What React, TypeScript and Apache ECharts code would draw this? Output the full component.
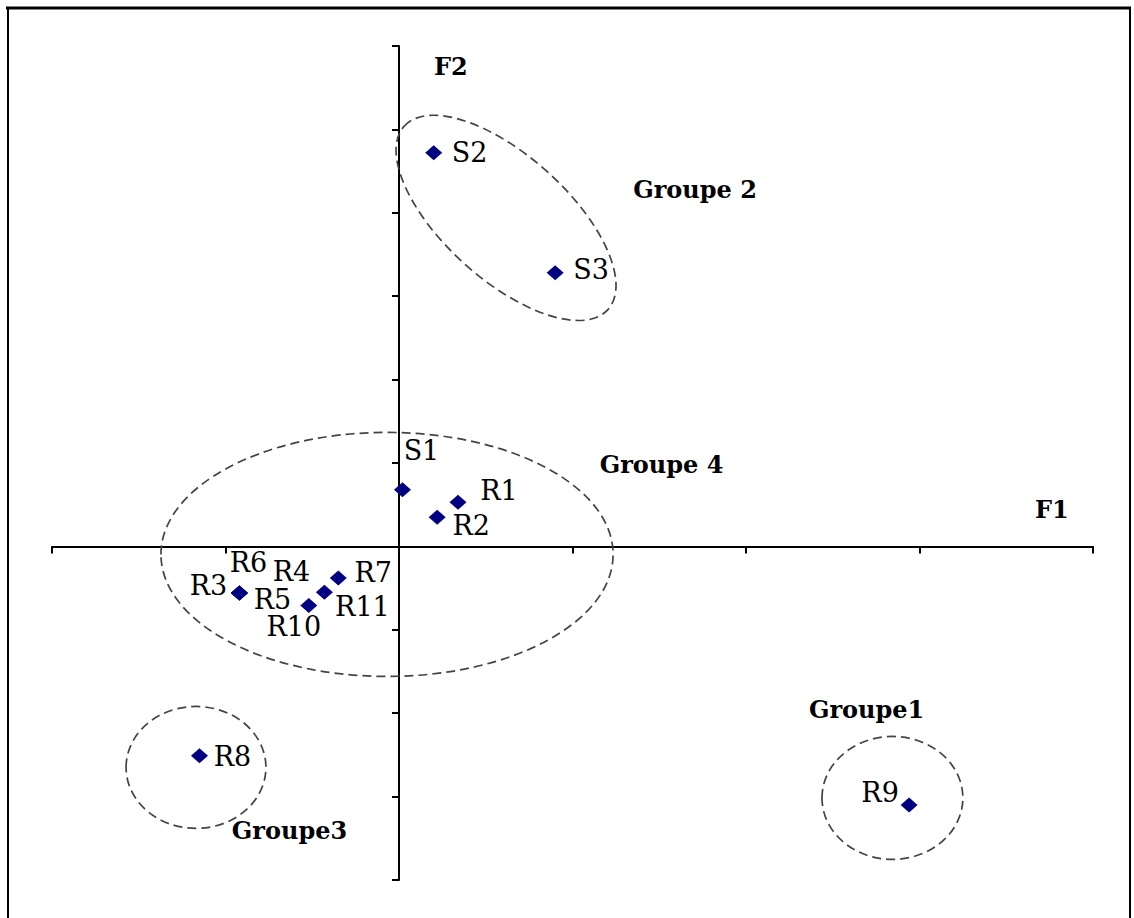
import React, { useEffect, useRef } from "react";
import * as echarts from "echarts";

// Factor scores of the observations on the first two factorial axes (F1, F2)
const pointNames = ["S1", "S2", "S3", "R1", "R2", "R3", "R4", "R5", "R6", "R7", "R8", "R9", "R10", "R11"];
const f1Values = [0.02, 0.2, 0.9, 0.34, 0.22, -0.92, -0.92, -0.92, -0.92, -0.35, -1.15, 2.94, -0.52, -0.43];
const f2Values = [0.68, 4.72, 3.28, 0.53, 0.35, -0.56, -0.56, -0.56, -0.56, -0.38, -2.51, -3.1, -0.71, -0.55];

// Groups: outline centre and semi-axes in axis units, tilt of the outline, caption anchor
const groupNames = ["Groupe 2", "Groupe 4", "Groupe3", "Groupe1"];
const groupCenterF1 = [0.617, -0.069, -1.17, 2.844];
const groupCenterF2 = [3.939, -0.096, -2.65, -3.016];
const groupRadiusF1 = [0.79, 1.303, 0.403, 0.406];
const groupRadiusF2 = [0.743, 1.463, 0.731, 0.737];
const groupTiltDeg = [42, 0, 0, 0];
const groupCaptionF1 = [1.706, 1.513, -0.631, 2.695];
const groupCaptionF2 = [4.281, 0.983, -3.405, -1.954];

// Axis ranges
const f1Range = [-2, 4];
const f2Range = [-4, 6];

// Hand placement of each point's caption, in pixels from the marker centre
const captionShift: Record<string, [number, number]> = {
  S1: [19, -39],
  S2: [36, 0],
  S3: [36, -3],
  R1: [41, -12],
  R2: [34, 8],
  R3: [-31, -8],
  R4: [52, -22],
  R5: [33, 6],
  R6: [9, -31],
  R7: [35, -6],
  R8: [33, 1],
  R9: [-29, -12],
  R10: [-15, 21],
  R11: [38, 14],
};

const serif = '"DejaVu Serif", "Liberation Serif", serif';

export default function App() {
  const ref = useRef<HTMLDivElement>(null);

  useEffect(() => {
    if (!ref.current) return;
    const chart = echarts.init(ref.current, undefined, { renderer: "svg" });

    const axisLine = { onZero: true, lineStyle: { color: "#000", width: 2 } };
    const axisTick = { show: true, length: 7, lineStyle: { color: "#000", width: 2 } };

    chart.setOption({
      animation: false,
      backgroundColor: "#fff",
      grid: { left: 52, right: 41, top: 46, bottom: 38 },
      xAxis: {
        type: "value",
        min: f1Range[0],
        max: f1Range[1],
        interval: 1,
        axisLine,
        axisTick,
        axisLabel: { show: false },
        splitLine: { show: false },
        name: "F1",
        nameLocation: "end",
        nameGap: -58,
        nameTextStyle: {
          color: "#000",
          fontFamily: serif,
          fontWeight: "bold",
          fontSize: 24,
          align: "left",
          verticalAlign: "bottom",
          padding: [0, 0, 25, 0],
        },
      },
      yAxis: {
        type: "value",
        min: f2Range[0],
        max: f2Range[1],
        interval: 1,
        axisLine,
        axisTick,
        axisLabel: { show: false },
        splitLine: { show: false },
        name: "F2",
        nameLocation: "end",
        nameGap: -8,
        nameTextStyle: {
          color: "#000",
          fontFamily: serif,
          fontWeight: "bold",
          fontSize: 24,
          align: "left",
          verticalAlign: "top",
          padding: [0, 0, 0, 35],
        },
      },
      graphic: [
        { type: "line", shape: { x1: 6, y1: 8, x2: 1131, y2: 8 }, style: { stroke: "#000", lineWidth: 3 } },
        { type: "line", shape: { x1: 8, y1: 7, x2: 8, y2: 918 }, style: { stroke: "#000", lineWidth: 2 } },
        { type: "line", shape: { x1: 1130, y1: 7, x2: 1130, y2: 918 }, style: { stroke: "#000", lineWidth: 2 } },
      ],
      series: [
        {
          // dashed outlines around each group
          type: "custom",
          silent: true,
          clip: false,
          z: 1,
          data: groupNames.map((_, i) => [
            groupCenterF1[i],
            groupCenterF2[i],
            groupRadiusF1[i],
            groupRadiusF2[i],
            groupTiltDeg[i],
          ]),
          renderItem: (_params: any, api: any) => {
            const c = api.coord([api.value(0), api.value(1)]);
            const rx = api.size([api.value(2), 0])[0];
            const ry = api.size([0, api.value(3)])[1];
            return {
              type: "ellipse",
              x: c[0],
              y: c[1],
              rotation: (-api.value(4) * Math.PI) / 180,
              shape: { cx: 0, cy: 0, rx, ry },
              style: { fill: "none", stroke: "#444", lineWidth: 1.7, lineDash: [9, 5] },
            };
          },
        },
        {
          // group captions
          type: "custom",
          silent: true,
          clip: false,
          z: 2,
          data: groupNames.map((_, i) => [groupCaptionF1[i], groupCaptionF2[i]]),
          renderItem: (params: any, api: any) => {
            const p = api.coord([api.value(0), api.value(1)]);
            return {
              type: "text",
              x: p[0],
              y: p[1],
              style: {
                text: groupNames[params.dataIndex],
                fill: "#000",
                fontFamily: serif,
                fontWeight: "bold",
                fontSize: 24,
                align: "center",
                verticalAlign: "middle",
              },
            };
          },
        },
        {
          type: "scatter",
          z: 3,
          symbol: "diamond",
          symbolSize: [17, 15],
          itemStyle: { color: "#000080", opacity: 1 },
          label: {
            show: true,
            position: "inside",
            formatter: "{b}",
            color: "#000",
            opacity: 1,
            fontFamily: serif,
            fontSize: 27,
            lineHeight: 22,
          },
          data: pointNames.map((n, i) => ({
            name: n,
            value: [f1Values[i], f2Values[i]],
            label: { offset: captionShift[n] },
          })),
        },
      ],
    });

    return () => chart.dispose();
  }, []);

  return (
    <div
      ref={ref}
      style={{ position: "fixed", left: 0, top: 0, width: 1134, height: 918, background: "#fff" }}
    />
  );
}
